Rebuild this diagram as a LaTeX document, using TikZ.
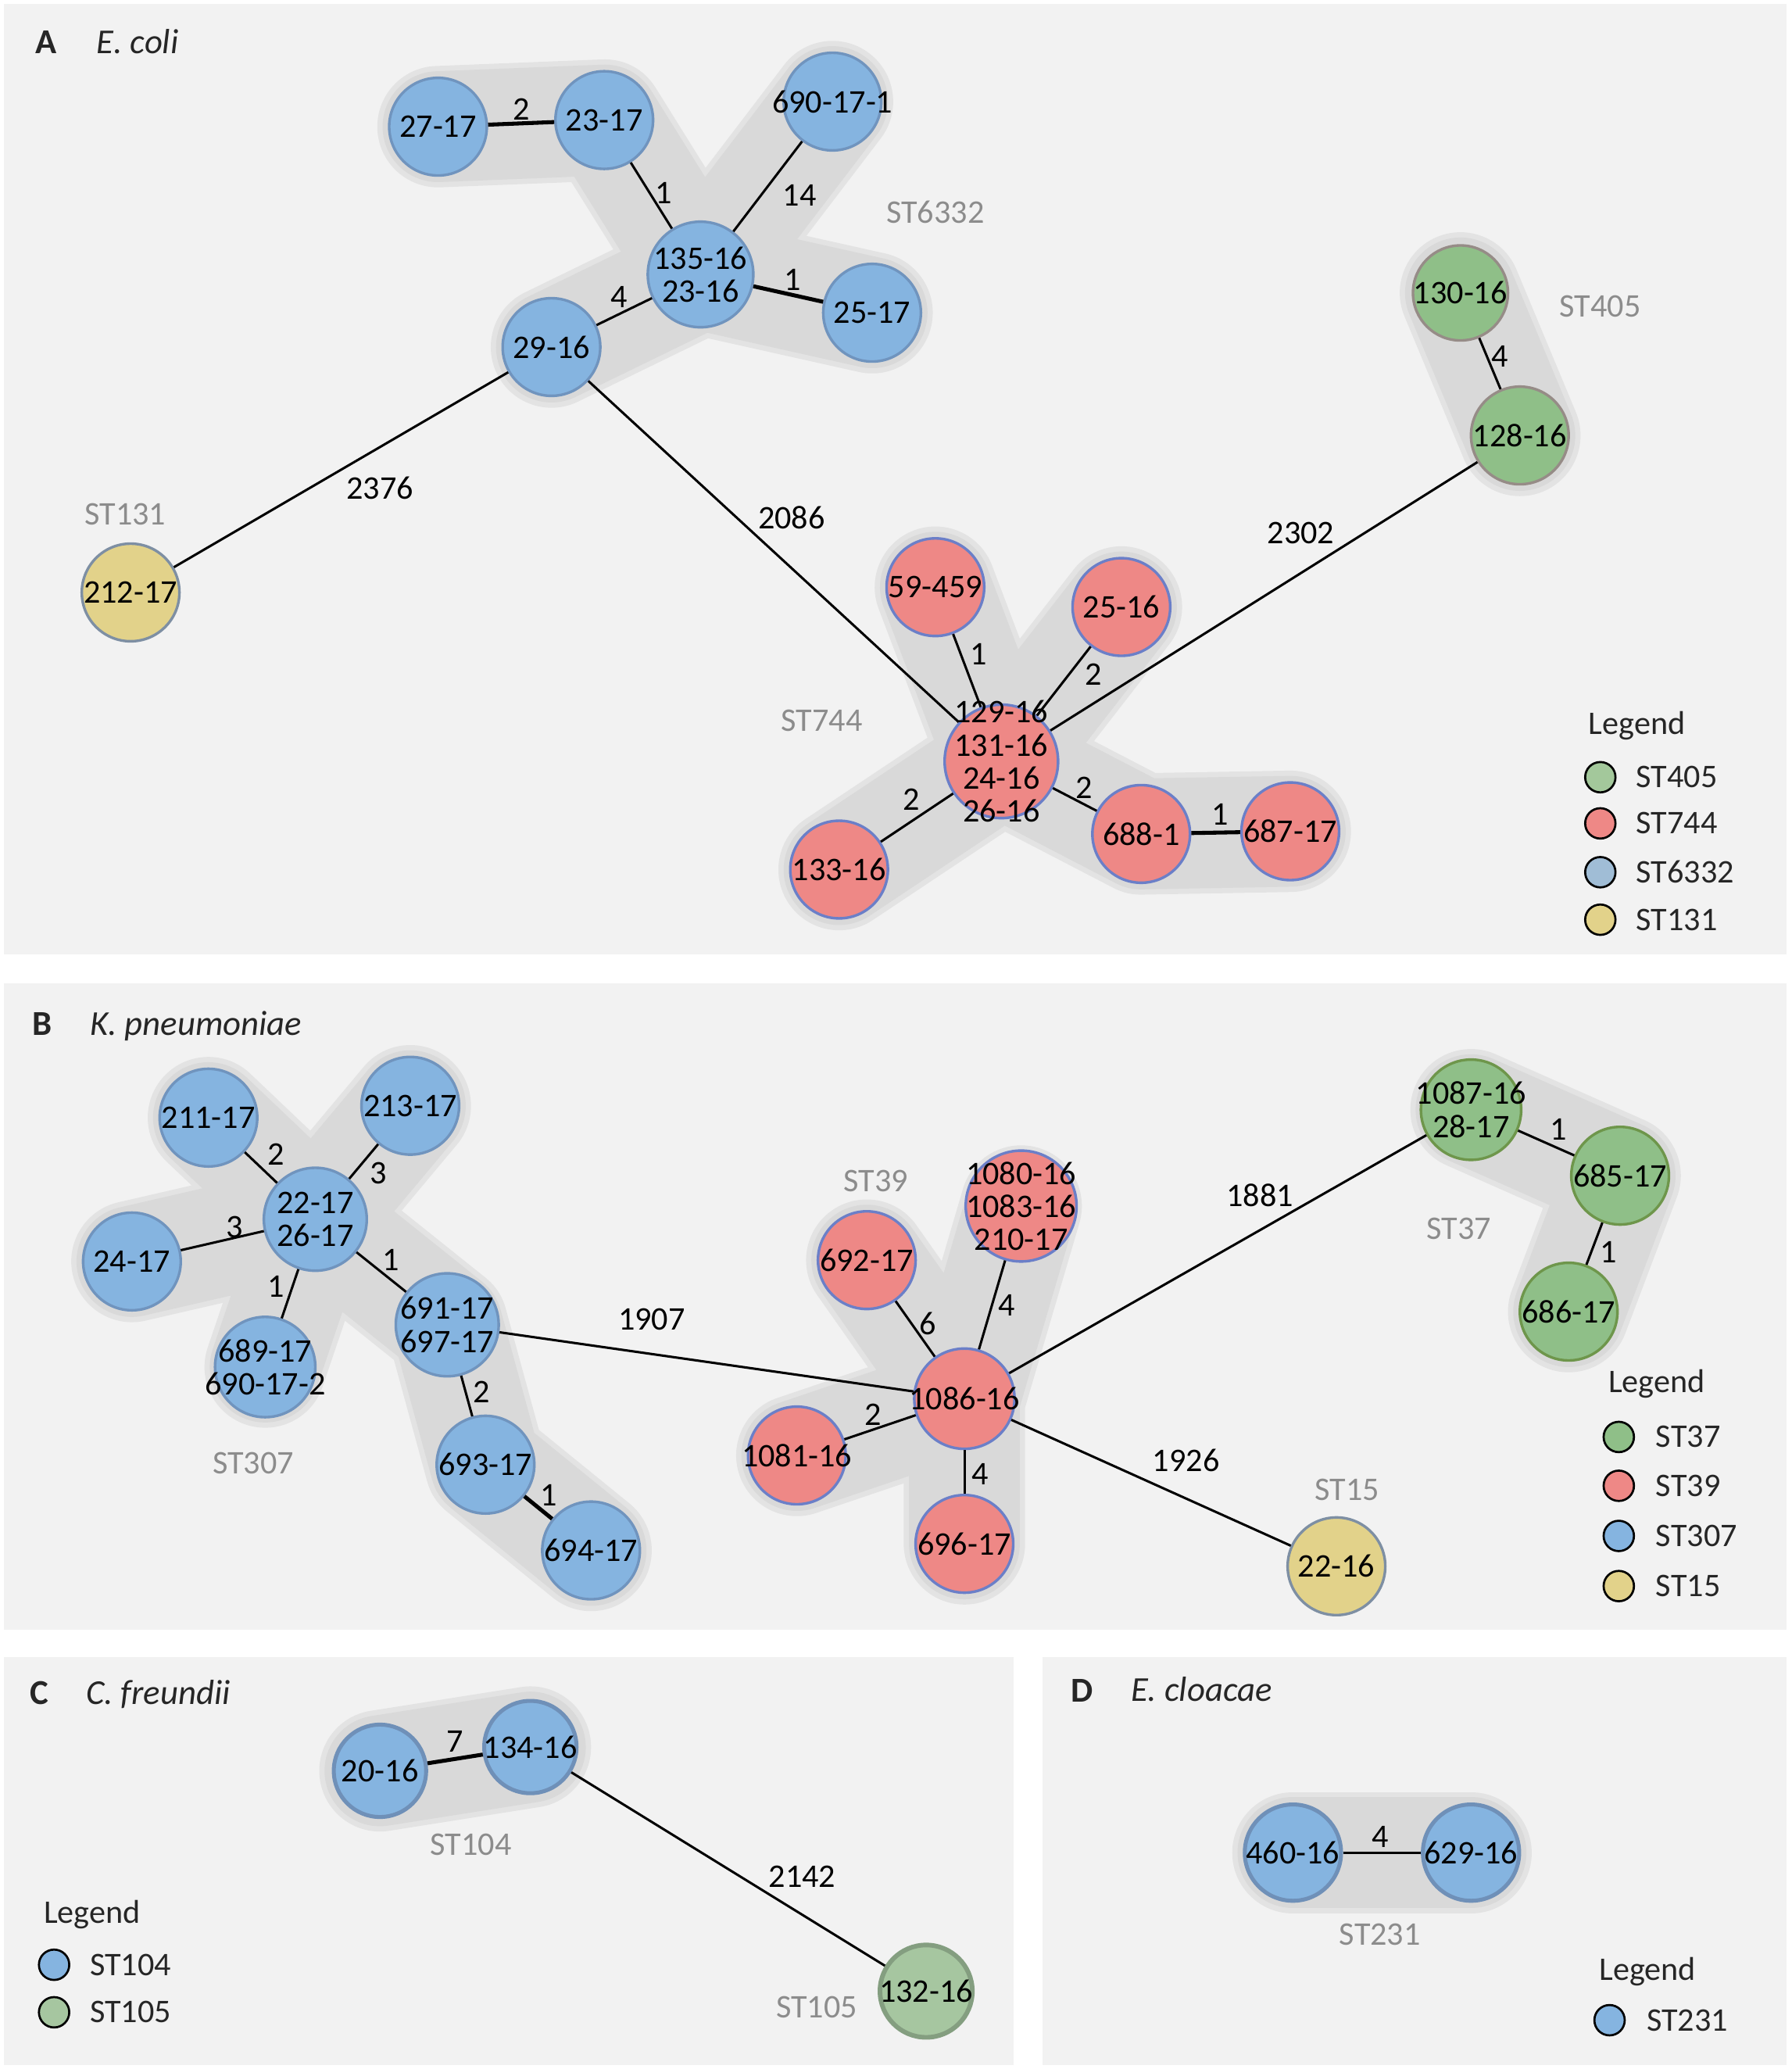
\documentclass[tikz,border=0pt]{standalone}
\usepackage{fontspec}
\setmainfont{Carlito}
\usetikzlibrary{backgrounds}

\definecolor{panelbg}{HTML}{F2F2F2}
\definecolor{hullgray}{HTML}{D9D9D9}
\definecolor{hullrim}{HTML}{E3E3E3}
\definecolor{cblue}{HTML}{85B4E0}
\definecolor{eblue}{HTML}{7094BE}
\definecolor{cred}{HTML}{EE8886}
\definecolor{ered}{HTML}{6B7FC8}
\definecolor{cgreen}{HTML}{8FBF88}
\definecolor{egreen}{HTML}{968C87}
\definecolor{egreenb}{HTML}{6E964B}
\definecolor{cyellow}{HTML}{E2D28A}
\definecolor{eyellow}{HTML}{7E8FA3}
\definecolor{cpale}{HTML}{A6C6A0}
\definecolor{epale}{HTML}{849E80}
\definecolor{ebluec}{HTML}{6F90B8}
\definecolor{kgreen}{HTML}{A3C89B}
\definecolor{kblue}{HTML}{A0BDD6}
\definecolor{stgray}{HTML}{8C8C8C}
\definecolor{legtext}{HTML}{262626}

\newcommand{\idfont}{\fontsize{25}{25}\selectfont}
\newcommand{\txtfont}{\fontsize{25}{30}\selectfont}
\newcommand{\headfont}{\fontsize{26.5}{30}\selectfont}

\begin{document}
\begin{tikzpicture}[x=1pt, y=-1pt,
    isolate/.style={circle, draw, line width=2pt, minimum size=74pt, inner sep=0pt},
    id/.style={label={[idtext]center:{#1}}},
    idtext/.style={align=center, font=\idfont, text=black, inner sep=0pt},
    fblue/.style={isolate, fill=cblue, draw=eblue},
    fred/.style={isolate, fill=cred, draw=ered},
    fgreen/.style={isolate, fill=cgreen, draw=egreen},
    fyellow/.style={isolate, fill=cyellow, draw=eyellow},
    link/.style={line width=1.8pt},
    heavy/.style={line width=3pt},
    dist/.style={font=\txtfont, text=black, inner sep=0pt},
    stname/.style={font=\txtfont, text=stgray, inner sep=0pt},
    hull/.style={draw=hullgray, line width=84pt, line cap=round, line join=round,
      preaction={draw=hullrim, line width=92pt, line cap=round, line join=round}},
    panel/.style={fill=panelbg},
    head/.style={font=\headfont\bfseries, text=legtext, inner sep=0pt},
    species/.style={font=\headfont\itshape, text=legtext, inner sep=0pt, anchor=base west},
    legendhead/.style={font=\txtfont, text=legtext, inner sep=0pt, anchor=west},
    swatch/.style={circle, draw=black, line width=1.6pt, minimum size=23pt, inner sep=0pt},
    swatchtext/.style={font=\txtfont, text=legtext, inner sep=0pt, anchor=west}]

\useasboundingbox (0,0) rectangle (1358,1568);

% ---------------- A: E. coli ----------------
\node[head] (hA) at (35,32) {A};
\node[species] (spA) at (73,40.5) {E. coli};

\node[fblue, id=27-17] (a2717) at (332,96) {};
\node[fblue, id=23-17] (a2317) at (458,91) {};
\node[fblue, id=690-17-1] (a690) at (631,77) {};
\node[fblue, minimum size=80pt, id={135-16\\23-16}] (a135) at (531,208) {};
\node[fblue, id=25-17] (a2517) at (661,237) {};
\node[fblue, id=29-16] (a2916) at (418,263) {};
\node[fyellow, id=212-17] (a212) at (99,449) {};
\node[fgreen, minimum size=72pt, id=130-16] (a130) at (1107,222) {};
\node[fgreen, id=128-16] (a128) at (1152,330) {};
\node[fred, id=59-459] (a59) at (709,445) {};
\node[fred, id=25-16] (a2516) at (850,460) {};
\node[fred, minimum size=86pt, id={129-16\\131-16\\24-16\\26-16}] (a131) at (759,577) {};
\node[fred, id=688-1] (a688) at (865,632) {};
\node[fred, id=687-17] (a687) at (978,630) {};
\node[fred, id=133-16] (a133) at (636,659) {};

\draw[link, heavy] (a2717) -- (a2317);
\draw[link] (a2317) -- (a135);
\draw[link] (a690) -- (a135);
\draw[link, heavy] (a135) -- (a2517);
\draw[link] (a135) -- (a2916);
\draw[link] (a2916) -- (a212);
\draw[link] (a2916) -- (a131);
\draw[link] (a131) -- (a128);
\draw[link] (a130) -- (a128);
\draw[link] (a59) -- (a131);
\draw[link] (a2516) -- (a131);
\draw[link] (a131) -- (a133);
\draw[link] (a131) -- (a688);
\draw[link, heavy] (a688) -- (a687);

\node[dist] (dA1) at (395,83) {2};
\node[dist] (dA2) at (503,146) {1};
\node[dist] (dA3) at (606,148) {14};
\node[dist] (dA4) at (601,212) {1};
\node[dist] (dA5) at (469,225) {4};
\node[dist] (dA6) at (288,370) {2376};
\node[dist] (dA7) at (600,392) {2086};
\node[dist] (dA8) at (986,404) {2302};
\node[dist] (dA9) at (1137,270) {4};
\node[dist] (dA10) at (742,496) {1};
\node[dist] (dA11) at (829,511) {2};
\node[dist] (dA12) at (691,606) {2};
\node[dist] (dA13) at (822,597) {2};
\node[dist] (dA14) at (925,617) {1};

\node[stname] (sA1) at (709,161) {ST6332};
\node[stname] (sA2) at (1213,232) {ST405};
\node[stname] (sA3) at (95,390) {ST131};
\node[stname] (sA4) at (623,546) {ST744};

% legend
\node[legendhead] (lgA) at (1204,550) {Legend};
\node[swatch, fill=kgreen] (kA1) at (1213,589) {};
\node[swatch, fill=cred] (kA2) at (1213,624) {};
\node[swatch, fill=kblue] (kA3) at (1213,661) {};
\node[swatch, fill=cyellow] (kA4) at (1213,697) {};
\node[swatchtext] (tA1) at (1240,589) {ST405};
\node[swatchtext] (tA2) at (1240,624) {ST744};
\node[swatchtext] (tA3) at (1240,661) {ST6332};
\node[swatchtext] (tA4) at (1240,697) {ST131};

% ---------------- B: K. pneumoniae ----------------
\node[head] (hB) at (32,776) {B};
\node[species] (spB) at (68,784.5) {K. pneumoniae};

\node[fblue, id=211-17] (b211) at (158,847) {};
\node[fblue, id=213-17] (b213) at (311,838) {};
\node[fblue, minimum size=78pt, id={22-17\\26-17}] (b22) at (239,924) {};
\node[fblue, id=24-17] (b24) at (100,956) {};
\node[fblue, minimum size=76pt, id={689-17\\690-17-2}] (b689) at (201,1036) {};
\node[fblue, minimum size=78pt, id={691-17\\697-17}] (b691) at (339,1004) {};
\node[fblue, id=693-17] (b693) at (368,1110) {};
\node[fblue, id=694-17] (b694) at (448,1175) {};
\node[fred, id=692-17] (b692) at (657,955) {};
\node[fred, minimum size=84pt, id={1080-16\\1083-16\\210-17}] (b1080) at (774,914) {};
\node[fred, minimum size=76pt, id=1086-16] (b1086) at (731,1060) {};
\node[fred, id=1081-16] (b1081) at (604,1103) {};
\node[fred, id=696-17] (b696) at (731,1170) {};
\node[fgreen, draw=egreenb, minimum size=76pt, id={1087-16\\28-17}] (b1087) at (1115,841) {};
\node[fgreen, draw=egreenb, id=685-17] (b685) at (1228,891) {};
\node[fgreen, draw=egreenb, id=686-17] (b686) at (1189,994) {};
\node[fyellow, id=22-16] (b2216) at (1013,1187) {};

\draw[link] (b211) -- (b22);
\draw[link] (b213) -- (b22);
\draw[link] (b24) -- (b22);
\draw[link] (b689) -- (b22);
\draw[link] (b22) -- (b691);
\draw[link] (b691) -- (b693);
\draw[link, heavy] (b693) -- (b694);
\draw[link] (b691) -- (b1086);
\draw[link] (b692) -- (b1086);
\draw[link] (b1080) -- (b1086);
\draw[link] (b1081) -- (b1086);
\draw[link] (b696) -- (b1086);
\draw[link] (b1086) -- (b1087);
\draw[link] (b1086) -- (b2216);
\draw[link] (b1087) -- (b685);
\draw[link] (b685) -- (b686);

\node[dist] (dB1) at (209,875) {2};
\node[dist] (dB2) at (287,889) {3};
\node[dist] (dB3) at (178,930) {3};
\node[dist] (dB4) at (209,975) {1};
\node[dist] (dB5) at (296,955) {1};
\node[dist] (dB6) at (365,1055) {2};
\node[dist] (dB7) at (416,1133) {1};
\node[dist] (dB8) at (494,1000) {1907};
\node[dist] (dB9) at (703,1003) {6};
\node[dist] (dB10) at (763,989) {4};
\node[dist] (dB11) at (662,1072) {2};
\node[dist] (dB12) at (743,1117) {4};
\node[dist] (dB13) at (955,906) {1881};
\node[dist] (dB14) at (899,1107) {1926};
\node[dist] (dB15) at (1181,856) {1};
\node[dist] (dB16) at (1219,949) {1};

\node[stname] (sB1) at (664,895) {ST39};
\node[stname] (sB2) at (192,1109) {ST307};
\node[stname] (sB3) at (1106,931) {ST37};
\node[stname] (sB4) at (1021,1129) {ST15};

% legend
\node[legendhead] (lgB) at (1219,1049) {Legend};
\node[swatch, fill=cgreen] (kB1) at (1227,1089) {};
\node[swatch, fill=cred] (kB2) at (1227,1126) {};
\node[swatch, fill=cblue] (kB3) at (1227,1164) {};
\node[swatch, fill=cyellow] (kB4) at (1227,1202) {};
\node[swatchtext] (tB1) at (1255,1089) {ST37};
\node[swatchtext] (tB2) at (1255,1126) {ST39};
\node[swatchtext] (tB3) at (1255,1164) {ST307};
\node[swatchtext] (tB4) at (1255,1202) {ST15};

% ---------------- C: C. freundii ----------------
\node[head] (hC) at (30,1283) {C};
\node[species] (spC) at (65,1291.5) {C. freundii};

\node[fblue, draw=ebluec, line width=3pt, minimum size=70pt, id=20-16] (c2016) at (288,1342) {};
\node[fblue, draw=ebluec, line width=3pt, minimum size=70pt, id=134-16] (c134) at (402,1324) {};
\node[isolate, fill=cpale, draw=epale, line width=3.5pt, minimum size=70pt, id=132-16] (c132) at (702,1509) {};

\draw[link, heavy] (c2016) -- (c134);
\draw[link] (c134) -- (c132);

\node[dist] (dC1) at (345,1320) {7};
\node[dist] (dC2) at (608,1422) {2142};
\node[stname] (sC1) at (357,1398) {ST104};
\node[stname] (sC2) at (619,1521) {ST105};

% legend
\node[legendhead] (lgC) at (33,1451) {Legend};
\node[swatch, fill=cblue] (kC1) at (41,1489) {};
\node[swatch, fill=cpale] (kC2) at (41,1525) {};
\node[swatchtext] (tC1) at (68,1489) {ST104};
\node[swatchtext] (tC2) at (68,1525) {ST105};

% ---------------- D: E. cloacae ----------------
\node[head] (hD) at (820,1281) {D};
\node[species] (spD) at (857,1289.5) {E. cloacae};

\node[fblue, draw=ebluec, line width=3pt, minimum size=73pt, id=460-16] (d460) at (980,1404) {};
\node[fblue, draw=ebluec, line width=3pt, minimum size=73pt, id=629-16] (d629) at (1115,1404) {};

\draw[link] (d460) -- (d629);

\node[dist] (dD1) at (1046,1392) {4};
\node[stname] (sD1) at (1046,1466) {ST231};

% legend
\node[legendhead] (lgD) at (1212,1494) {Legend};
\node[swatch, fill=cblue] (kD1) at (1220,1531) {};
\node[swatchtext] (tD1) at (1248,1531) {ST231};

% ---------------- panels and hulls ----------------
\begin{scope}[on background layer]
  \fill[panel] (3,3) rectangle (1354,723);
  \fill[panel] (3,745) rectangle (1354,1235);
  \fill[panel] (3,1256) rectangle (768,1565);
  \fill[panel] (790,1256) rectangle (1354,1565);
  % ST6332
  \draw[hull] (a2717.center) -- (a2317.center) -- (a135.center) -- (a690.center)
    (a135.center) -- (a2517.center) (a135.center) -- (a2916.center);
  % ST405
  \draw[hull] (a130.center) -- (a128.center);
  % ST744
  \draw[hull] (a59.center) -- (a131.center) -- (a2516.center)
    (a133.center) -- (a131.center) -- (a688.center) -- (a687.center);
  % ST307
  \draw[hull] (b211.center) -- (b22.center) -- (b213.center)
    (b24.center) -- (b22.center) -- (b689.center)
    (b22.center) -- (b691.center) -- (b693.center) -- (b694.center);
  % ST39
  \draw[hull] (b692.center) -- (b1086.center) -- (b1080.center)
    (b1081.center) -- (b1086.center) -- (b696.center);
  % ST37
  \draw[hull] (b1087.center) -- (b685.center) -- (b686.center);
  % ST104
  \draw[hull] (c2016.center) -- (c134.center);
  % ST231
  \draw[hull] (d460.center) -- (d629.center);
\end{scope}
\end{tikzpicture}
\end{document}
